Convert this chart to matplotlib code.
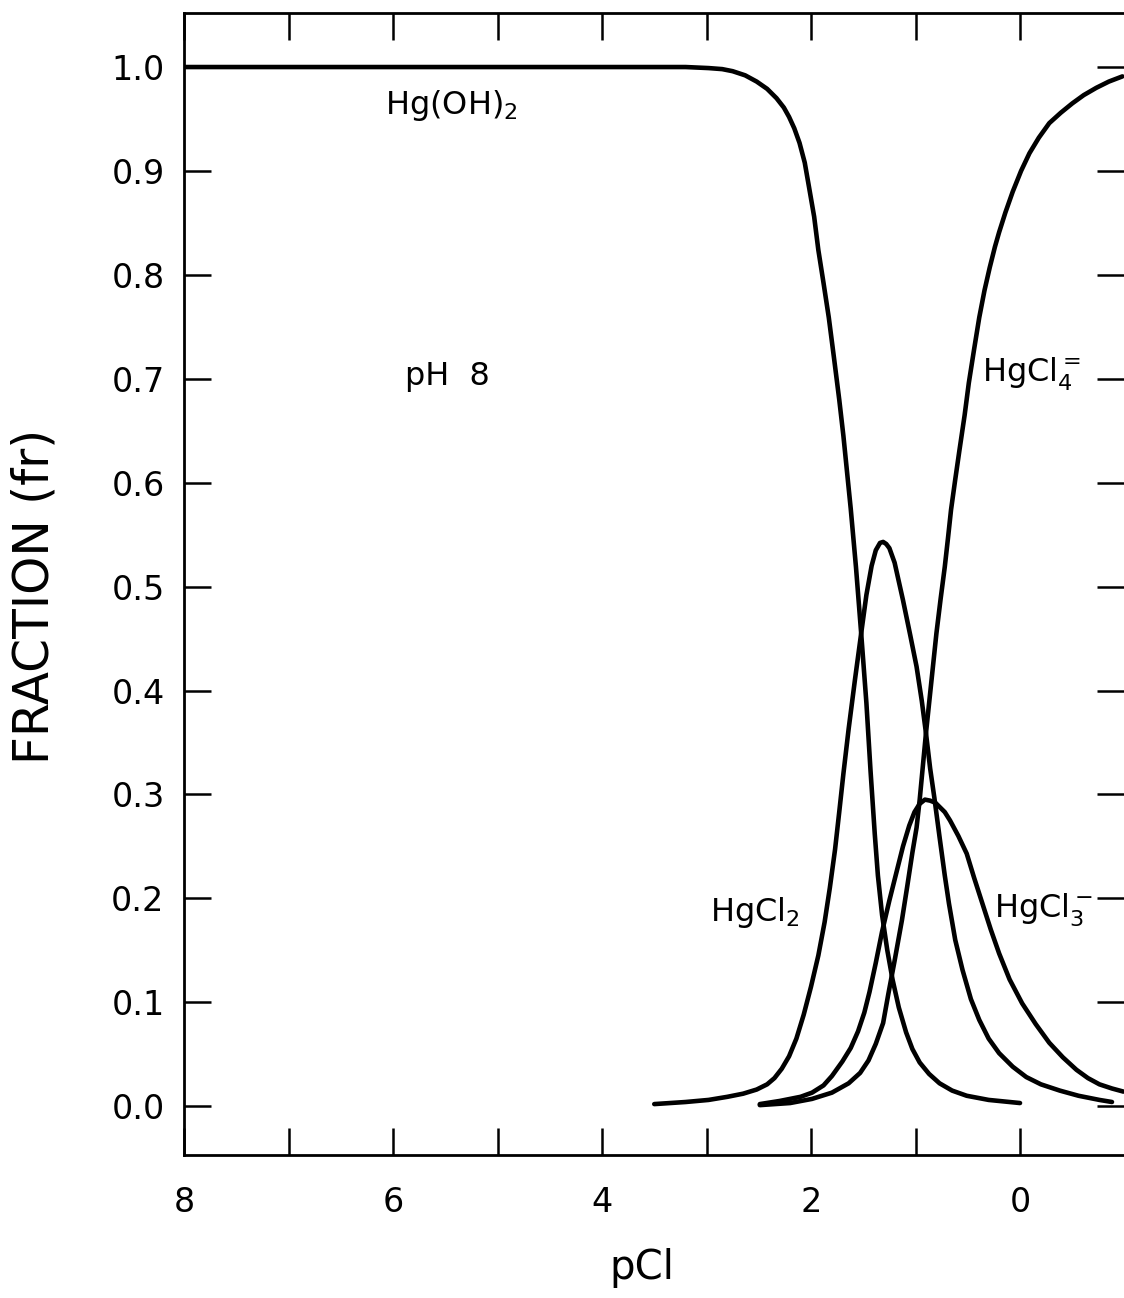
import numpy as np
import matplotlib.pyplot as plt

# Mercury(II) speciation vs pCl at pH 8 (fractions read per species)
pcl_oh = [8.00, 3.20, 2.98, 2.85, 2.75, 2.63, 2.52, 2.42, 2.33, 2.26, 2.21,
          2.16, 2.11, 2.06, 2.02, 1.97, 1.93, 1.88, 1.83, 1.78, 1.73, 1.69,
          1.66, 1.62, 1.57, 1.52, 1.47, 1.43, 1.39, 1.36, 1.32, 1.27, 1.22,
          1.16, 1.09, 1.03, 0.96, 0.87, 0.77, 0.65, 0.51, 0.30, 0.00]
fr_oh = [1.000, 1.000, 0.999, 0.998, 0.996, 0.992, 0.986, 0.979, 0.970, 0.961,
         0.952, 0.941, 0.927, 0.908, 0.885, 0.856, 0.824, 0.792, 0.759, 0.720,
         0.680, 0.645, 0.615, 0.575, 0.519, 0.455, 0.388, 0.322, 0.262, 0.222,
         0.184, 0.150, 0.122, 0.095, 0.071, 0.055, 0.042, 0.031, 0.022, 0.015,
         0.010, 0.006, 0.003]

pcl_cl2 = [3.50, 3.20, 2.98, 2.80, 2.65, 2.52, 2.42, 2.35, 2.28, 2.21, 2.14,
           2.07, 2.00, 1.93, 1.87, 1.82, 1.77, 1.73, 1.69, 1.64, 1.58, 1.52,
           1.47, 1.42, 1.38, 1.34, 1.31, 1.28, 1.25, 1.20, 1.12, 1.05, 0.99,
           0.94, 0.90, 0.86, 0.82, 0.77, 0.72, 0.68, 0.62, 0.55, 0.47, 0.39,
           0.30, 0.20, 0.07, -0.06, -0.20, -0.38, -0.56, -0.76, -0.88]
fr_cl2 = [0.002, 0.004, 0.006, 0.009, 0.012, 0.016, 0.021, 0.027, 0.036, 0.048,
          0.065, 0.088, 0.115, 0.145, 0.177, 0.210, 0.247, 0.283, 0.320, 0.363,
          0.410, 0.455, 0.492, 0.520, 0.535, 0.542, 0.543, 0.541, 0.537, 0.523,
          0.487, 0.453, 0.423, 0.390, 0.359, 0.325, 0.297, 0.259, 0.222, 0.195,
          0.160, 0.131, 0.103, 0.083, 0.065, 0.051, 0.038, 0.028, 0.021, 0.015,
          0.010, 0.006, 0.004]

pcl_cl3 = [2.49, 2.30, 2.10, 1.99, 1.88, 1.80, 1.70, 1.62, 1.55, 1.49, 1.44,
           1.38, 1.32, 1.25, 1.18, 1.12, 1.06, 1.01, 0.96, 0.91, 0.86, 0.81,
           0.77, 0.72, 0.67, 0.59, 0.51, 0.44, 0.36, 0.28, 0.20, 0.10, -0.02,
           -0.15, -0.28, -0.41, -0.54, -0.65, -0.76, -0.88, -0.99]
fr_cl3 = [0.002, 0.005, 0.009, 0.013, 0.020, 0.029, 0.043, 0.056, 0.072, 0.090,
          0.110, 0.138, 0.168, 0.198, 0.226, 0.250, 0.270, 0.283, 0.291, 0.295,
          0.294, 0.292, 0.288, 0.283, 0.275, 0.260, 0.243, 0.220, 0.195, 0.170,
          0.147, 0.122, 0.099, 0.079, 0.061, 0.047, 0.035, 0.027, 0.021, 0.017,
          0.014]

pcl_cl4 = [2.49, 2.20, 1.99, 1.80, 1.64, 1.53, 1.45, 1.38, 1.31, 1.26, 1.20,
           1.13, 1.08, 1.03, 0.99, 0.96, 0.93, 0.90, 0.85, 0.80, 0.76, 0.72,
           0.69, 0.66, 0.62, 0.58, 0.53, 0.49, 0.44, 0.39, 0.34, 0.29, 0.24,
           0.20, 0.14, 0.07, -0.01, -0.09, -0.18, -0.28, -0.39, -0.50, -0.61,
           -0.73, -0.85, -0.98]
fr_cl4 = [0.001, 0.003, 0.007, 0.013, 0.022, 0.032, 0.044, 0.060, 0.080, 0.108,
          0.140, 0.179, 0.211, 0.244, 0.268, 0.295, 0.327, 0.359, 0.407, 0.455,
          0.488, 0.519, 0.546, 0.574, 0.603, 0.631, 0.665, 0.696, 0.728, 0.759,
          0.785, 0.807, 0.827, 0.841, 0.860, 0.880, 0.900, 0.917, 0.932, 0.946,
          0.956, 0.965, 0.973, 0.980, 0.986, 0.991]

plt.rcParams['font.family'] = ['DejaVu Sans']
plt.rcParams['mathtext.fontset'] = 'dejavusans'

fig = plt.figure(figsize=(11.24, 12.98), dpi=100)
ax = fig.add_axes([184 / 1124, 143 / 1298, 940 / 1124, 1142 / 1298])

lw = 3.3
for x, y in [(pcl_oh, fr_oh), (pcl_cl2, fr_cl2), (pcl_cl3, fr_cl3), (pcl_cl4, fr_cl4)]:
    ax.plot(x, y, color='black', lw=lw, solid_capstyle='round',
            solid_joinstyle='round')

ax.set_xlim(8, -0.995)
ax.set_ylim(-0.047, 1.052)

ax.set_xticks([8, 6, 4, 2, 0])
ax.set_xticks([7, 5, 3, 1], minor=True)
ax.set_yticks(np.arange(0, 11) / 10)
ax.set_yticklabels(['%.1f' % v for v in np.arange(0, 11) / 10])

ax.tick_params(axis='both', which='both', direction='in', length=19.5,
               width=1.8, top=True, right=True, labelsize=24, color='black')
ax.tick_params(axis='x', which='both', pad=22)
ax.tick_params(axis='y', which='both', pad=14)

for side in ['left', 'bottom', 'top']:
    ax.spines[side].set_linewidth(2.0)
ax.spines['right'].set_visible(False)

fig.text(35 / 1124, 1 - 596 / 1298, 'FRACTION (fr)', fontsize=35,
         rotation=90, ha='center', va='center')
ax.text(3.62, -0.156, 'pCl', fontsize=29, ha='center', va='center')

ax.text(6.08, 0.963, 'Hg(OH)$_2$', fontsize=23, ha='left', va='center')
ax.text(5.89, 0.702, 'pH  8', fontsize=23, ha='left', va='center')
ax.text(2.97, 0.186, 'HgCl$_2$', fontsize=23, ha='left', va='center')
ax.text(0.246, 0.189, 'HgCl$_3^-$', fontsize=23, ha='left', va='center')
ax.text(0.36, 0.704, 'HgCl$_4^{=}$', fontsize=23, ha='left', va='center')

fig.savefig('out.png', dpi=100)
